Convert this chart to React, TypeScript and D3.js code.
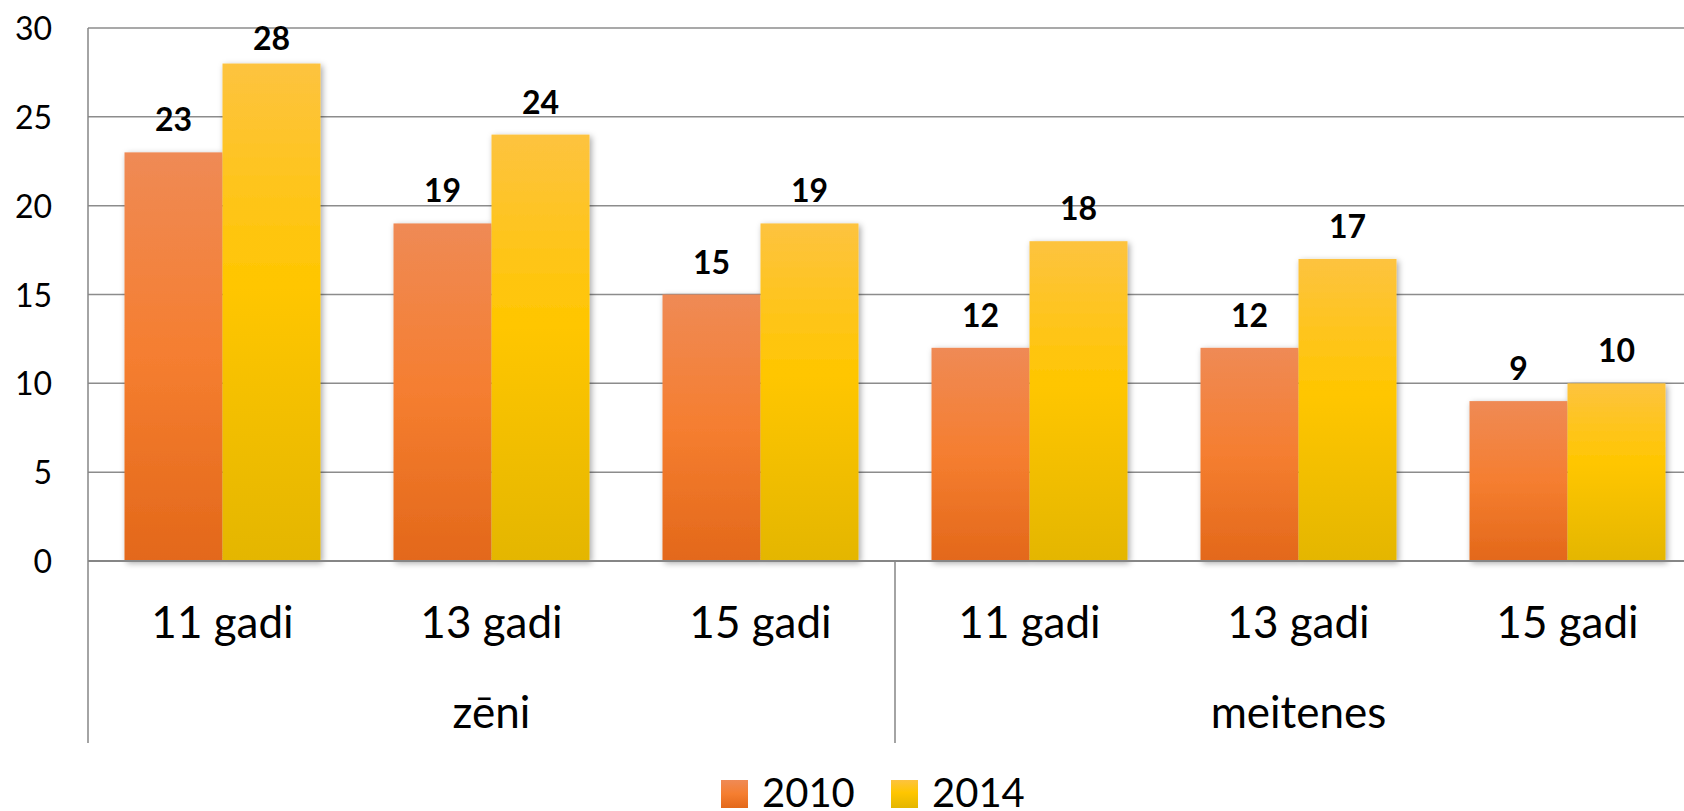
import React from "react";
import * as d3 from "d3";

const years = ["2010", "2014"];
const ageLabels = ["11 gadi", "13 gadi", "15 gadi", "11 gadi", "13 gadi", "15 gadi"];
const groupLabels = ["zēni", "meitenes"];
const values2010 = [23, 19, 15, 12, 12, 9];
const values2014 = [28, 24, 19, 18, 17, 10];
const yTicks = [0, 5, 10, 15, 20, 25, 30];

const seriesValues = [values2010, values2014];
const gradIds = ["gOrange", "gYellow"];

const FONT = "Lato, 'Open Sans', sans-serif";

const App = () => {
  const width = 1684;
  const height = 811;
  const left = 88;
  const right = 1702; // plot runs past the window edge, as in the picture
  const top = 28;
  const bottom = 561;

  const x = d3
    .scaleBand<number>()
    .domain(ageLabels.map((_, i) => i))
    .range([left, right])
    .paddingInner(0.2714)
    .paddingOuter(0.1357);
  const xSeries = d3
    .scaleBand<string>()
    .domain(years)
    .range([0, x.bandwidth()]);
  const y = d3.scaleLinear().domain([0, 30]).range([bottom, top]);

  const half = (left + right) / 2 - (right - left) / 2 + (x.step() * 3);
  const groupCenters = [(left + half) / 2, (half + right) / 2];

  return (
    <svg
      width={width}
      height={height}
      style={{ position: "absolute", left: 0, top: 0, background: "#fff" }}
    >
      <defs>
        <linearGradient id="gOrange" x1="0" y1="0" x2="0" y2="1">
          <stop offset="0" stopColor="#EF8A55" />
          <stop offset="0.5" stopColor="#F57E30" />
          <stop offset="1" stopColor="#E3681A" />
        </linearGradient>
        <linearGradient id="gYellow" x1="0" y1="0" x2="0" y2="1">
          <stop offset="0" stopColor="#FDC33F" />
          <stop offset="0.45" stopColor="#FFC600" />
          <stop offset="1" stopColor="#E4B600" />
        </linearGradient>
        <filter id="shadow" x="-10%" y="-10%" width="130%" height="130%">
          <feDropShadow dx="2" dy="2" stdDeviation="3" floodColor="#000" floodOpacity="0.35" />
        </filter>
      </defs>

      {/* gridlines */}
      {yTicks.slice(1).map((t) => (
        <line key={t} x1={left} x2={right} y1={y(t)} y2={y(t)} stroke="#8c8c8c" strokeWidth={1.5} />
      ))}

      {/* tick labels */}
      {yTicks.map((t) => (
        <text
          key={t}
          x={52}
          y={y(t) + 12}
          textAnchor="end"
          fontFamily={FONT}
          fontSize={32}
          fill="#000"
        >
          {t}
        </text>
      ))}

      {/* bars */}
      {ageLabels.map((_, i) => (
        <g key={i} filter="url(#shadow)">
          {years.map((yr, s) => {
            const v = seriesValues[s][i];
            return (
              <rect
                key={yr}
                x={(x(i) as number) + (xSeries(yr) as number)}
                y={y(v)}
                width={xSeries.bandwidth()}
                height={bottom - y(v)}
                fill={`url(#${gradIds[s]})`}
              />
            );
          })}
        </g>
      ))}

      {/* data labels */}
      {ageLabels.map((_, i) =>
        years.map((yr, s) => {
          const v = seriesValues[s][i];
          return (
            <text
              key={`${i}-${yr}`}
              x={(x(i) as number) + (xSeries(yr) as number) + xSeries.bandwidth() / 2}
              y={Math.max(y(v) - 21, 50)}
              textAnchor="middle"
              fontFamily={FONT}
              fontWeight="bold"
              fontSize={32}
              fill="#000"
            >
              {v}
            </text>
          );
        })
      )}

      {/* axes */}
      <line x1={left} x2={right} y1={bottom} y2={bottom} stroke="#868686" strokeWidth={2} />
      <line x1={left} x2={left} y1={top} y2={743} stroke="#868686" strokeWidth={1.5} />
      <line x1={half} x2={half} y1={bottom} y2={743} stroke="#868686" strokeWidth={1.5} />

      {/* category labels */}
      {ageLabels.map((lab, i) => (
        <text
          key={i}
          x={(x(i) as number) + x.bandwidth() / 2}
          y={638}
          textAnchor="middle"
          fontFamily={FONT}
          fontSize={44}
          fill="#000"
        >
          {lab}
        </text>
      ))}
      {groupLabels.map((lab, i) => (
        <text
          key={lab}
          x={groupCenters[i]}
          y={728}
          textAnchor="middle"
          fontFamily={FONT}
          fontSize={44}
          fill="#000"
        >
          {lab}
        </text>
      ))}

      {/* legend */}
      {years.map((yr, s) => {
        const lx = 721 + s * 170;
        return (
          <g key={yr}>
            <rect x={lx} y={780} width={27} height={28} fill={`url(#${gradIds[s]})`} />
            <text x={lx + 41} y={807} fontFamily={FONT} fontSize={40} fill="#000">
              {yr}
            </text>
          </g>
        );
      })}
    </svg>
  );
};

export default App;
